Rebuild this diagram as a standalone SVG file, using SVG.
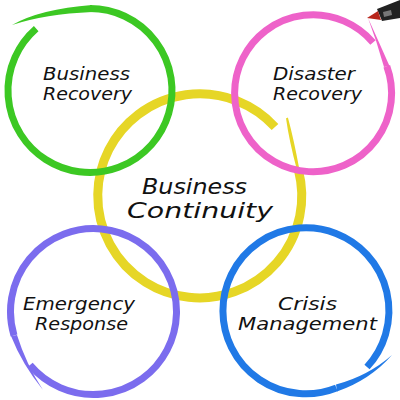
<svg xmlns="http://www.w3.org/2000/svg" width="400" height="400" viewBox="0 0 400 400">
<style>
.ring{fill:none;stroke-linecap:butt}
.lbl{font-family:"DejaVu Sans","Liberation Sans",sans-serif;font-style:italic;fill:#111;text-anchor:middle}
.s{font-size:17px}
.b{font-size:21px}
</style>
<rect width="400" height="400" fill="#fff"/>
<g id="connectors"></g>
<g id="business-continuity">
<path class="ring" d="M298.5 170.3 A102 102 0 1 1 275 127" stroke="#e6d626" stroke-width="9"/>
<path d="M287 118 Q293 140 298.5 170.3 L298 170 Q290 140 287 118 Z" fill="#e6d626" stroke="#e6d626" stroke-width="2"/>
<text class="lbl b" x="194.5" y="194" textLength="105" lengthAdjust="spacingAndGlyphs">Business</text>
<text class="lbl b" x="200" y="218" textLength="146" lengthAdjust="spacingAndGlyphs">Continuity</text>
</g>
<g id="business-recovery">
<path class="ring" d="M90 8.5 A82 82 0 1 1 36.2 28.6" stroke="#3cc823" stroke-width="7"/>
<path d="M12 25 Q40 9 92 5 L92 12 Q45 14 12 25 Z" fill="#3cc823"/>
<text class="lbl s" x="86.5" y="80" textLength="87" lengthAdjust="spacingAndGlyphs">Business</text>
<text class="lbl s" x="87.5" y="100" textLength="89" lengthAdjust="spacingAndGlyphs">Recovery</text>
</g>
<g id="disaster-recovery">
<path class="ring" d="M386.8 66.2 A78.5 78.5 0 1 1 373 42.5" stroke="#ee62c9" stroke-width="7"/>
<path d="M368 18 Q378 40 389.5 66 L384 67 Q377 42 368 18 Z" fill="#ee62c9"/>
<text class="lbl s" x="314" y="80" textLength="82" lengthAdjust="spacingAndGlyphs">Disaster</text>
<text class="lbl s" x="317.5" y="100" textLength="89" lengthAdjust="spacingAndGlyphs">Recovery</text>
</g>
<g id="emergency-response">
<path class="ring" d="M30 365 A83 83 0 1 0 14 335.4" stroke="#7b6cee" stroke-width="7"/>
<path d="M11 336 Q22 364 43 390 Q26 364 17 335 Z" fill="#7b6cee"/>
<text class="lbl s" x="79" y="310" textLength="112" lengthAdjust="spacingAndGlyphs">Emergency</text>
<text class="lbl s" x="81.5" y="330" textLength="93" lengthAdjust="spacingAndGlyphs">Response</text>
</g>
<g id="crisis-management">
<path class="ring" d="M336.4 388 A83 83 0 1 1 367 367" stroke="#2079e6" stroke-width="7"/>
<path d="M392 355 Q368 376 336 384.5 L337 391.5 Q370 380 392 355 Z" fill="#2079e6"/>
<text class="lbl s" x="307.5" y="310" textLength="59" lengthAdjust="spacingAndGlyphs">Crisis</text>
<text class="lbl s" x="307.5" y="330" textLength="139" lengthAdjust="spacingAndGlyphs">Management</text>
</g>
<g id="marker">
<polygon points="400,0 400,18 382,21 377,9" fill="#222"/>
<polygon points="383,12 391,10 392,15 384,17" fill="#777"/>
<polygon points="367,18 378,11 381,20" fill="#b8261c"/>
</g>
</svg>
